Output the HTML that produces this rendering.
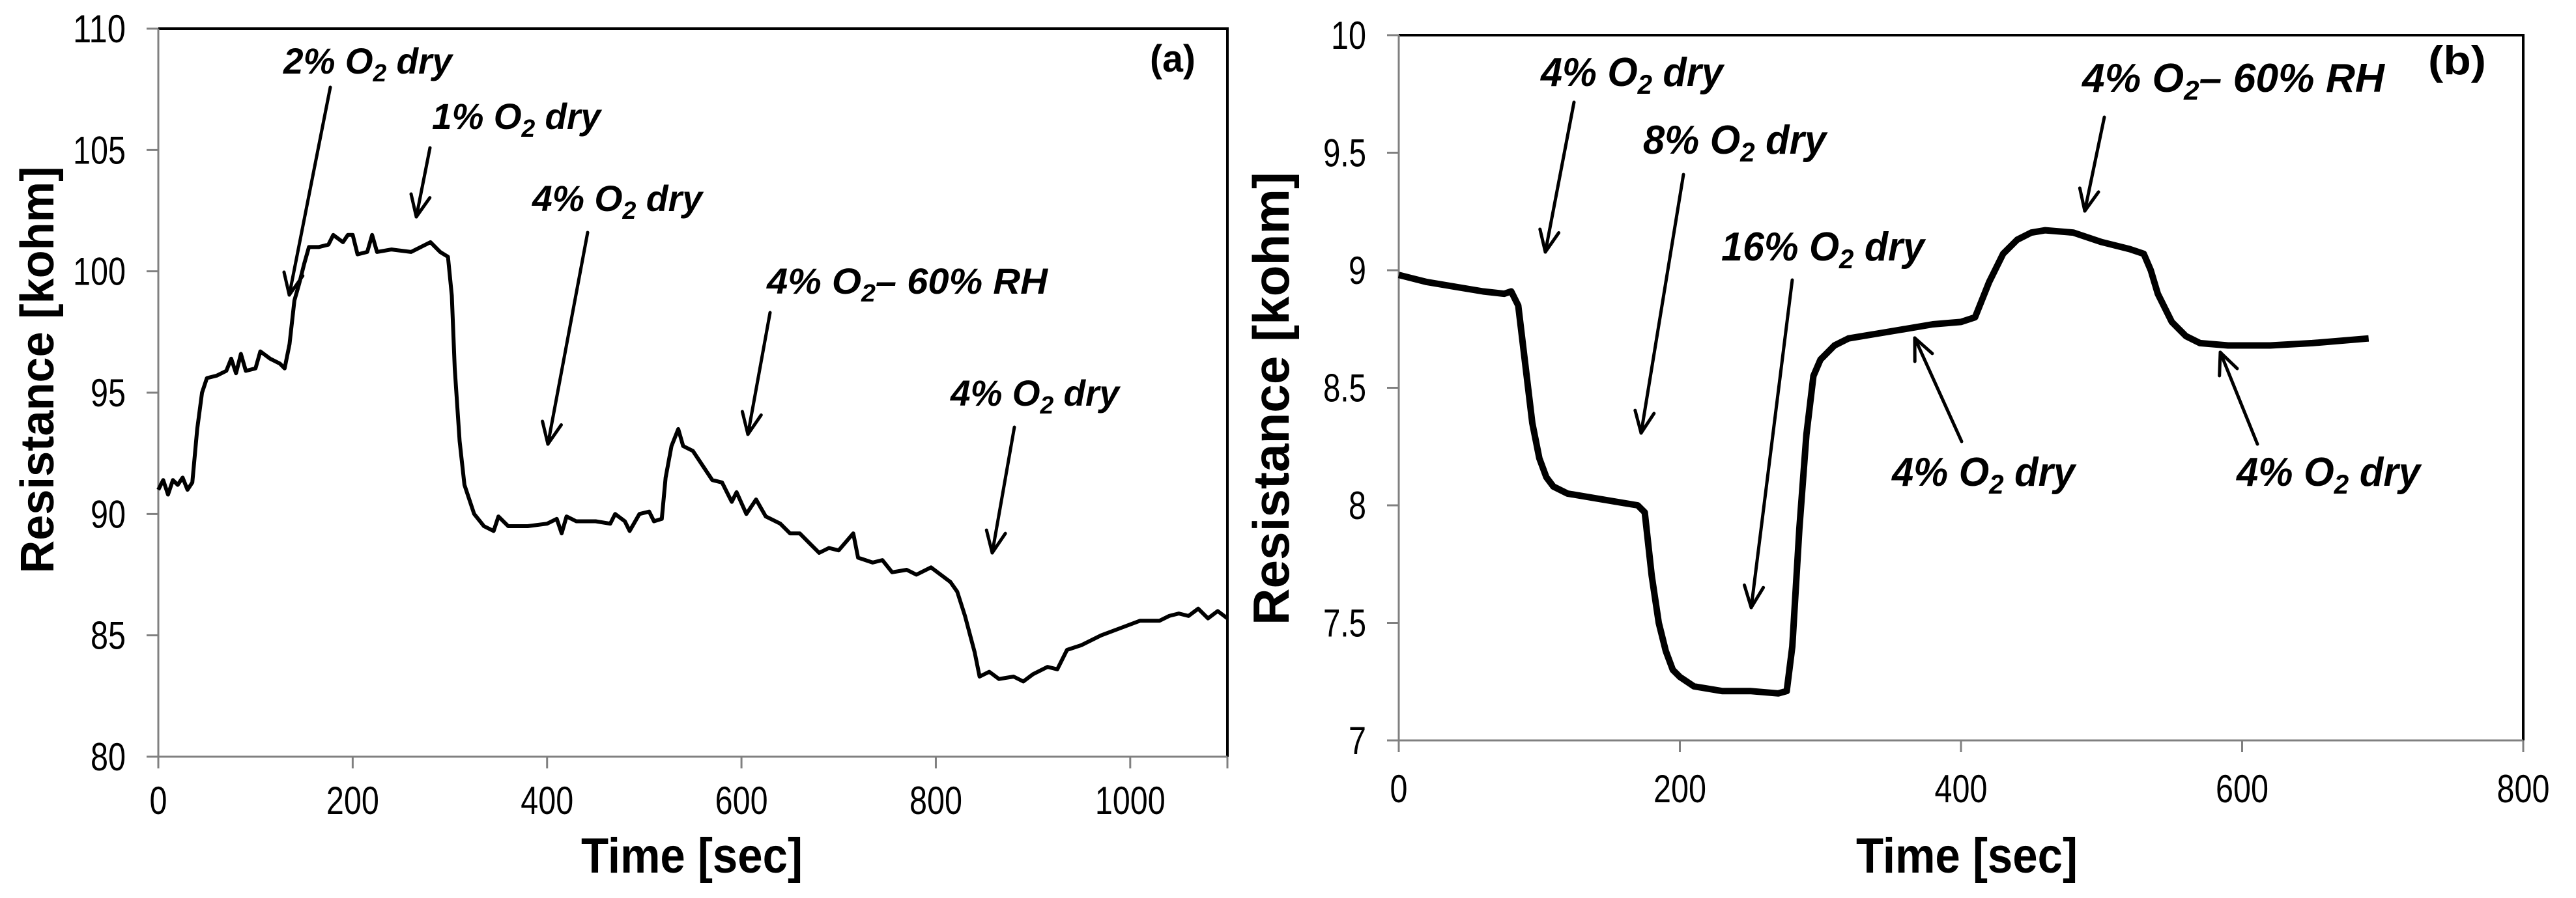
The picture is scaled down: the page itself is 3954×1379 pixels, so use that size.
<!DOCTYPE html>
<html><head><meta charset="utf-8"><style>
html,body{margin:0;padding:0;background:#fff;}
svg{display:block;}
text{font-family:"Liberation Sans Narrow","Liberation Sans",Arial,sans-serif;}
</style></head>
<body>
<svg id="fig" width="3954" height="1379" viewBox="0 0 3954 1379" xmlns="http://www.w3.org/2000/svg"></svg>
<script>
// Panel (a) data
const timeA = [0,5,10,15,20,25,30,35,40,45,50,60,70,75,80,85,90,100,105,115,125,130,135,140,145,150,155,165,175,180,190,195,200,205,215,220,225,240,260,270,280,290,298,302,305,310,315,325,335,345,350,360,380,400,410,415,420,430,450,465,470,480,485,495,505,510,518,522,528,535,540,550,560,570,580,590,595,605,615,625,640,650,660,670,680,690,700,715,720,735,745,755,770,780,795,805,815,822,830,840,845,855,865,880,890,900,915,925,935,950,970,990,1010,1030,1040,1050,1060,1070,1080,1090,1100];
const resA = [91.0,91.4,90.8,91.4,91.2,91.5,91.0,91.3,93.5,95.0,95.6,95.7,95.9,96.4,95.8,96.6,95.9,96.0,96.7,96.4,96.2,96.0,97.0,98.8,99.5,100.3,101.0,101.0,101.1,101.5,101.2,101.5,101.5,100.7,100.8,101.5,100.8,100.9,100.8,101.0,101.2,100.8,100.6,99.0,96.0,93.0,91.2,90.0,89.5,89.3,89.9,89.5,89.5,89.6,89.8,89.2,89.9,89.7,89.7,89.6,90.0,89.7,89.3,90.0,90.1,89.7,89.8,91.5,92.8,93.5,92.8,92.6,92.0,91.4,91.3,90.5,90.9,90.0,90.6,89.9,89.6,89.2,89.2,88.8,88.4,88.6,88.5,89.2,88.2,88.0,88.1,87.6,87.7,87.5,87.8,87.5,87.2,86.8,85.8,84.3,83.3,83.5,83.2,83.3,83.1,83.4,83.7,83.6,84.4,84.6,85.0,85.3,85.6,85.6,85.8,85.9,85.8,86.1,85.7,86.0,85.7];
const xTicksA = [0,200,400,600,800,1000];
const yTicksA = [80,85,90,95,100,105,110];
// Panel (b) data
const timeB = [0,20,40,60,75,80,85,90,95,100,105,110,120,140,160,170,175,180,185,190,195,200,210,230,250,270,276,280,285,290,295,300,310,320,340,360,380,400,410,420,430,440,450,460,480,500,520,530,535,540,550,560,570,590,620,650,690];
const resB = [8.98,8.95,8.93,8.91,8.90,8.91,8.85,8.6,8.35,8.2,8.12,8.08,8.05,8.03,8.01,8.0,7.97,7.7,7.5,7.38,7.3,7.27,7.23,7.21,7.21,7.20,7.21,7.4,7.9,8.3,8.55,8.62,8.68,8.71,8.73,8.75,8.77,8.78,8.80,8.95,9.07,9.13,9.16,9.17,9.16,9.12,9.09,9.07,9.0,8.9,8.78,8.72,8.69,8.68,8.68,8.69,8.71];
const xTicksB = [0,200,400,600,800];
const yTicksB = [7,7.5,8,8.5,9,9.5,10];
const yTickLabelsB = ["7","7.5","8","8.5","9","9.5","10"];

const NS = "http://www.w3.org/2000/svg";
const svg = document.getElementById('fig');
function mk(tag, attrs, parent){const e=document.createElementNS(NS,tag);for(const k in attrs)e.setAttribute(k,attrs[k]);(parent||svg).appendChild(e);return e;}
function narrowLen(s){let w=0;for(const c of s)w+=(c==='.'?12:27);return w;}

function panel(cfg){
  const g = mk('g',{});
  
  
  const sx = v => cfg.L + (v - cfg.x0)/(cfg.x1 - cfg.x0)*(cfg.R - cfg.L);
  const sy = v => cfg.B - (v - cfg.y0)/(cfg.y1 - cfg.y0)*(cfg.B - cfg.T);
  const frame = mk('path',{d:`M${cfg.L},${cfg.T} H${cfg.R} V${cfg.B}`,fill:'none',stroke:'#000','stroke-width':4},g);
  
  
  const ax = mk('path',{d:`M${cfg.L},${cfg.T} V${cfg.B} H${cfg.R}`,fill:'none',stroke:'#808080','stroke-width':3},g);
  
  
  cfg.yTicks.forEach((v,i)=>{
    const y = sy(v);
    const t = mk('line',{x1:cfg.L-18,x2:cfg.L,y1:y,y2:y,stroke:'#808080','stroke-width':3},g);
    
    
    const s = cfg.yLabels ? cfg.yLabels[i] : String(v);
    const lb = mk('text',{x:cfg.L-50,y:y+21,'font-size':60,'text-anchor':'end',textLength:narrowLen(s),lengthAdjust:'spacingAndGlyphs'},g);
    lb.textContent = s;
    
    
  });
  cfg.xTicks.forEach(v=>{
    const x = sx(v);
    const t = mk('line',{x1:x,x2:x,y1:cfg.B,y2:cfg.B+18,stroke:'#808080','stroke-width':3},g);
    
    
    const s = String(v);
    const lb = mk('text',{x:x,y:cfg.B+cfg.xlOff,'font-size':60,'text-anchor':'middle',textLength:narrowLen(s),lengthAdjust:'spacingAndGlyphs'},g);
    lb.textContent = s;
    
    
  });
  if (cfg.extraTick!==undefined){
    const x=sx(cfg.extraTick);
    const t = mk('line',{x1:x,x2:x,y1:cfg.B,y2:cfg.B+18,stroke:'#808080','stroke-width':3},g);
    
    
  }
  let d='';
  cfg.xs.forEach((v,i)=>{d += (i?'L':'M') + sx(v).toFixed(1) + ',' + sy(cfg.ys[i]).toFixed(1);});
  const line = mk('path',{d:d,fill:'none',stroke:'#000','stroke-width':cfg.sw,'stroke-linejoin':'round'},g);
  
  
  const yt = mk('text',{x:0,y:0,'font-size':cfg.ytSize,'font-weight':'bold','text-anchor':'middle',transform:`translate(${cfg.ytX},${cfg.ytY}) rotate(-90)`,style:'font-family:"Liberation Sans",Arial,sans-serif',textLength:cfg.ytLen,lengthAdjust:'spacingAndGlyphs'},g);
  yt.textContent = 'Resistance  [kohm]';
  
  
  const xt = mk('text',{x:cfg.xtX,y:1340,'font-size':76,'font-weight':'bold','text-anchor':'middle',textLength:340,lengthAdjust:'spacingAndGlyphs'},g);
  xt.textContent = 'Time [sec]';
  
  
  return g;
}

panel({name:'panel-a',L:243,R:1884,T:44,B:1162,x0:0,x1:1100,y0:80,y1:110,xTicks:xTicksA,yTicks:yTicksA,xlOff:88,extraTick:1100,xs:timeA,ys:resA,sw:6,ytX:82,ytY:568,ytSize:72,ytLen:625,xtX:1062});
panel({name:'panel-b',L:2147,R:3873,T:54,B:1137,x0:0,x1:800,y0:7,y1:10,xTicks:xTicksB,yTicks:yTicksB,yLabels:yTickLabelsB,xlOff:95,xs:timeB,ys:resB,sw:10,ytX:1978,ytY:612,ytSize:78,ytLen:696,xtX:3019});

function ann(name, x, base, width, pre, post, fs){
  fs = fs || 56;
  const t = mk('text',{x:x,y:base,'font-size':fs,'font-weight':'bold','font-style':'italic',textLength:width,lengthAdjust:'spacingAndGlyphs'});
  
  
  const a = mk('tspan',{},t); a.textContent = pre + ' O';
  const s = mk('tspan',{'font-size':Math.round(fs*0.68),dy:12},t); s.textContent = '2';
  const b = mk('tspan',{dy:-12},t); b.textContent = post;
  return t;
}
function arrow(name,x1,y1,x2,y2){
  const g = mk('g',{stroke:'#000','stroke-width':5,fill:'none','stroke-linecap':'round'});
  
  
  mk('line',{x1:x1,y1:y1,x2:x2,y2:y2},g);
  const ang = Math.atan2(y2-y1,x2-x1), L=36, h=0.42;
  [ang+Math.PI-h, ang+Math.PI+h].forEach(a=>{
    mk('line',{x1:x2,y1:y2,x2:x2+L*Math.cos(a),y2:y2+L*Math.sin(a)},g);
  });
}
ann('label-a-2pct',435,113,259,'2%',' dry');
arrow('arrow-a-2pct',507,134,444,453);
ann('label-a-1pct',663,198,259,'1%',' dry');
arrow('arrow-a-1pct',660,227,639,333);
ann('label-a-4pct',817,324,261,'4%',' dry');
arrow('arrow-a-4pct',902,357,841,682);
ann('label-a-4pct-rh',1177,451,431,'4%','– 60% RH');
arrow('arrow-a-4pct-rh',1182,480,1148,667);
ann('label-a-4pct-2',1459,623,259,'4%',' dry');
arrow('arrow-a-4pct-2',1557,656,1523,849);
const pa = mk('text',{x:1765,y:110,'font-size':58,'font-weight':'bold',textLength:70,lengthAdjust:'spacingAndGlyphs'}); pa.textContent='(a)';



ann('label-b-4pct',2365,132,280,'4%',' dry',62);
arrow('arrow-b-4pct',2416,157,2372,387);
ann('label-b-8pct',2522,236,281,'8%',' dry',62);
arrow('arrow-b-8pct',2584,268,2519,665);
ann('label-b-16pct',2642,400,312,'16%',' dry',62);
arrow('arrow-b-16pct',2751,430,2688,933);
ann('label-b-4pct-rh',3196,141,464,'4%','– 60% RH',62);
arrow('arrow-b-4pct-rh',3230,180,3200,324);
ann('label-b-4pct-2',2904,746,281,'4%',' dry',62);
arrow('arrow-b-4pct-2',3011,678,2939,519);
ann('label-b-4pct-3',3433,746,282,'4%',' dry',62);
arrow('arrow-b-4pct-3',3465,682,3408,541);
const pb = mk('text',{x:3727,y:114,'font-size':62,'font-weight':'bold',textLength:89,lengthAdjust:'spacingAndGlyphs'}); pb.textContent='(b)';


</script>
</body></html>
